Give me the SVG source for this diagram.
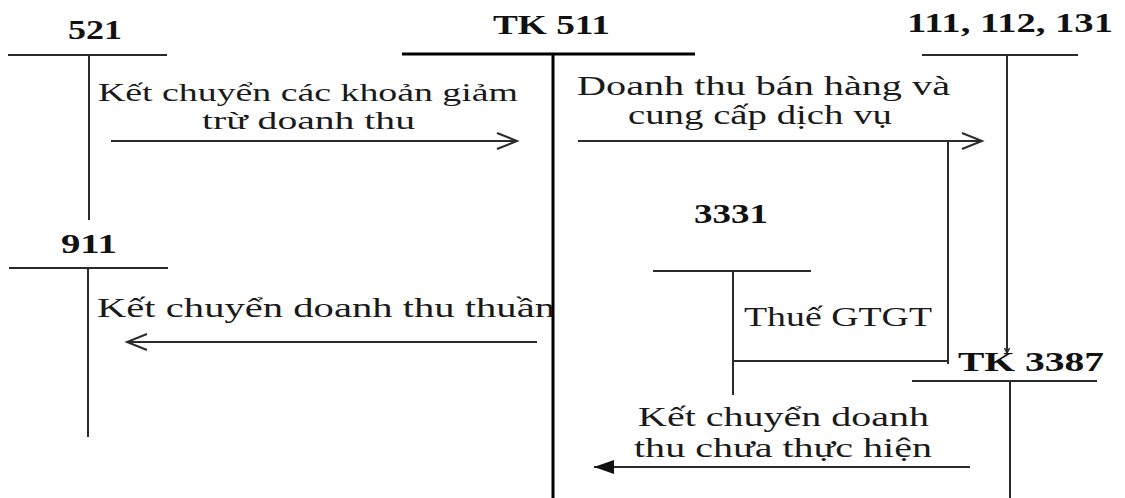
<svg xmlns="http://www.w3.org/2000/svg" width="1125" height="498" viewBox="0 0 1125 498">
  <style>
    .bg { fill: #ffffff; }
    .acct { font-family: "Liberation Serif", "Times New Roman", serif; font-size: 28px; font-weight: bold; fill: #111; }
    .lbl { font-family: "Liberation Serif", "Times New Roman", serif; font-size: 28px; fill: #1a1a1a; }
    .lbl.tight { font-size: 25px; }
    .rule { stroke: #2b2b2b; stroke-width: 2; fill: none; }
    .main { stroke: #000; stroke-width: 3; fill: none; }
    .flow { stroke: #2b2b2b; stroke-width: 2; fill: none; }
  </style>
  <defs>
    <marker id="open" markerUnits="userSpaceOnUse" markerWidth="24" markerHeight="20" refX="21" refY="9" orient="auto">
      <path d="M1,1 L21,9 L1,17" fill="none" stroke="#2b2b2b" stroke-width="2"/>
    </marker>
    <marker id="solid" markerUnits="userSpaceOnUse" markerWidth="22" markerHeight="14" refX="20" refY="7" orient="auto">
      <path d="M0,0 L20,7 L0,14 Z" fill="#111"/>
    </marker>
    <marker id="tick" markerUnits="userSpaceOnUse" markerWidth="8" markerHeight="8" refX="6" refY="3" orient="auto">
      <path d="M1,0.5 L6,3 L1,5.5" fill="none" stroke="#2b2b2b" stroke-width="1.5"/>
    </marker>
  </defs>
  <rect class="bg" x="0" y="0" width="1125" height="498"/>

  <!-- T-account 521 -->
  <g id="acct-521">
    <text class="acct" x="68" y="39" textLength="54" lengthAdjust="spacingAndGlyphs">521</text>
    <line class="rule" x1="8" y1="55" x2="167" y2="55"/>
    <line class="rule" x1="89" y1="55" x2="89" y2="220"/>
  </g>

  <!-- T-account 511 (main account) -->
  <g id="acct-511">
    <text class="acct" x="493" y="34" textLength="117" lengthAdjust="spacingAndGlyphs">TK 511</text>
    <line class="main" x1="402" y1="54" x2="695" y2="54"/>
    <line class="main" x1="553" y1="54" x2="553" y2="498"/>
  </g>

  <!-- T-account 111, 112, 131 -->
  <g id="acct-111">
    <text class="acct" x="907" y="32" textLength="206" lengthAdjust="spacingAndGlyphs">111, 112, 131</text>
    <line class="rule" x1="922" y1="55" x2="1078" y2="55"/>
  </g>

  <!-- T-account 911 -->
  <g id="acct-911">
    <text class="acct" x="61" y="253" textLength="56" lengthAdjust="spacingAndGlyphs">911</text>
    <line class="rule" x1="9" y1="268" x2="168" y2="268"/>
    <line class="rule" x1="88" y1="268" x2="88" y2="437"/>
  </g>

  <!-- T-account 3331 -->
  <g id="acct-3331">
    <text class="acct" x="694" y="223" textLength="74" lengthAdjust="spacingAndGlyphs">3331</text>
    <line class="rule" x1="653" y1="271" x2="811" y2="271"/>
    <line class="rule" x1="733" y1="271" x2="733" y2="395"/>
  </g>

  <!-- T-account 3387 -->
  <g id="acct-3387">
    <text class="acct" x="958" y="371" textLength="146" lengthAdjust="spacingAndGlyphs">TK 3387</text>
    <line class="rule" x1="912" y1="381" x2="1097" y2="381"/>
    <line class="rule" x1="1010" y1="381" x2="1010" y2="498"/>
  </g>

  <!-- Entries between accounts -->
  <g id="connectors">
    <line class="flow" x1="111" y1="141" x2="517" y2="141" marker-end="url(#open)"/>
    <line class="flow" x1="578" y1="141" x2="982" y2="141" marker-end="url(#open)"/>
    <line class="flow" x1="948" y1="140" x2="948" y2="364"/>
    <line class="flow" x1="733" y1="361" x2="949" y2="361"/>
    <line class="flow" x1="1007" y1="55" x2="1007" y2="353" marker-end="url(#tick)"/>
    <line class="flow" x1="537" y1="342" x2="127" y2="342" marker-end="url(#open)"/>
    <line class="flow" x1="970" y1="467" x2="594" y2="467" marker-end="url(#solid)"/>
  </g>

  <!-- Entry labels -->
  <g id="labels">
    <text class="lbl tight" x="98" y="101" textLength="420" lengthAdjust="spacingAndGlyphs">Kết chuyển các khoản giảm</text>
    <text class="lbl tight" x="202" y="129" textLength="213" lengthAdjust="spacingAndGlyphs">trừ doanh thu</text>
    <text class="lbl" x="577" y="95" textLength="373" lengthAdjust="spacingAndGlyphs">Doanh thu bán hàng và</text>
    <text class="lbl" x="628" y="124" textLength="264" lengthAdjust="spacingAndGlyphs">cung cấp dịch vụ</text>
    <text class="lbl" x="97" y="317" textLength="458" lengthAdjust="spacingAndGlyphs">Kết chuyển doanh thu thuần</text>
    <text class="lbl" x="744" y="326" textLength="188" lengthAdjust="spacingAndGlyphs">Thuế GTGT</text>
    <text class="lbl" x="638" y="426" textLength="291" lengthAdjust="spacingAndGlyphs">Kết chuyển doanh</text>
    <text class="lbl" x="634" y="457" textLength="298" lengthAdjust="spacingAndGlyphs">thu chưa thực hiện</text>
  </g>
</svg>
